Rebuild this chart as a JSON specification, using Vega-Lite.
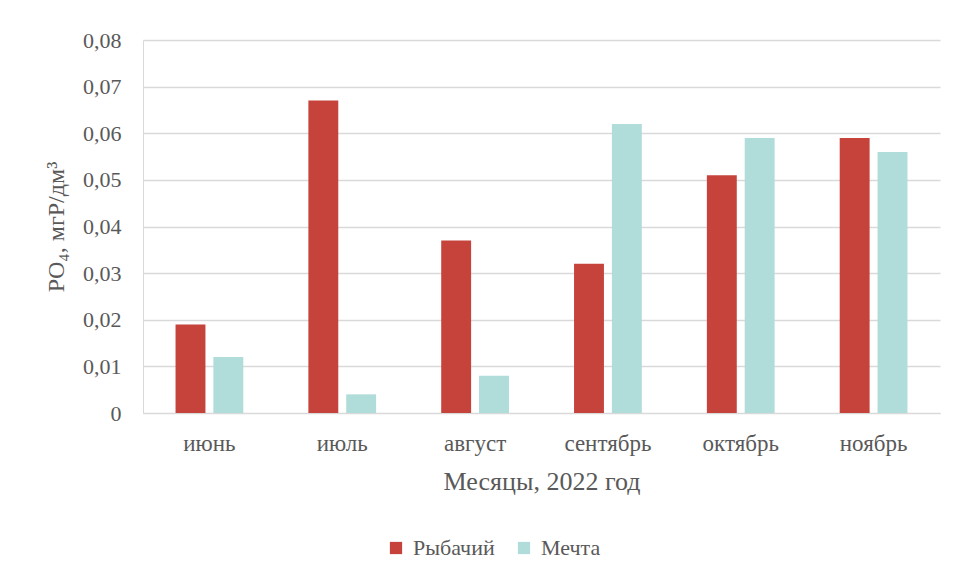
{
  "$schema": "https://vega.github.io/schema/vega-lite/v6.json",
  "width": 797,
  "height": 373,
  "autosize": {"type": "none"},
  "padding": {"left": 143, "top": 40, "right": 15, "bottom": 164},
  "background": "white",
  "data": {"values": [
    {"month": "июнь", "site": "Рыбачий", "value": 0.019},
    {"month": "июнь", "site": "Мечта", "value": 0.012},
    {"month": "июль", "site": "Рыбачий", "value": 0.067},
    {"month": "июль", "site": "Мечта", "value": 0.004},
    {"month": "август", "site": "Рыбачий", "value": 0.037},
    {"month": "август", "site": "Мечта", "value": 0.008},
    {"month": "сентябрь", "site": "Рыбачий", "value": 0.032},
    {"month": "сентябрь", "site": "Мечта", "value": 0.062},
    {"month": "октябрь", "site": "Рыбачий", "value": 0.051},
    {"month": "октябрь", "site": "Мечта", "value": 0.059},
    {"month": "ноябрь", "site": "Рыбачий", "value": 0.059},
    {"month": "ноябрь", "site": "Мечта", "value": 0.056}
  ]},
  "mark": {"type": "bar"},
  "encoding": {
    "x": {
      "field": "month", "type": "nominal",
      "sort": ["июнь", "июль", "август", "сентябрь", "октябрь", "ноябрь"],
      "scale": {"paddingInner": 0.49, "paddingOuter": 0.245},
      "axis": {"title": "Месяцы, 2022 год", "labelAngle": 0, "ticks": false, "labelPadding": 19, "titlePadding": 13, "labelFontSize": 23, "titleFontSize": 26, "domainColor": "#d9d9d9", "grid": false}
    },
    "xOffset": {
      "field": "site", "type": "nominal",
      "sort": ["Рыбачий", "Мечта"],
      "scale": {"paddingInner": 0.21}
    },
    "y": {
      "field": "value", "type": "quantitative",
      "scale": {"domain": [0, 0.08]},
      "axis": {
        "title": "PO₄, мгР/дм³",
        "values": [0, 0.01, 0.02, 0.03, 0.04, 0.05, 0.06, 0.07, 0.08],
        "labelExpr": "datum.value == 0 ? '0' : replace(format(datum.value, '.2f'), '.', ',')",
        "ticks": false, "labelPadding": 22, "titlePadding": 14,
        "labelFontSize": 22, "titleFontSize": 24,
        "domain": true, "domainColor": "#d9d9d9", "gridColor": "#d9d9d9", "gridWidth": 1.5
      }
    },
    "color": {
      "field": "site", "type": "nominal",
      "sort": ["Рыбачий", "Мечта"],
      "scale": {"domain": ["Рыбачий", "Мечта"], "range": ["#C5433B", "#B0DCD9"]},
      "legend": {
        "title": null, "orient": "none", "direction": "horizontal",
        "legendX": 242, "legendY": 497,
        "symbolType": "square", "symbolSize": 150, "columnPadding": 18, "labelOffset": 6
      }
    }
  },
  "config": {
    "font": "Liberation Serif, Times New Roman, serif",
    "view": {"stroke": null},
    "axis": {
      "labelFont": "Liberation Serif, Times New Roman, serif", "labelColor": "#595959",
      "titleFont": "Liberation Serif, Times New Roman, serif", "titleColor": "#595959", "titleFontWeight": "normal"
    },
    "legend": {"labelFont": "Liberation Serif, Times New Roman, serif", "labelFontSize": 22, "labelColor": "#595959"}
  }
}
